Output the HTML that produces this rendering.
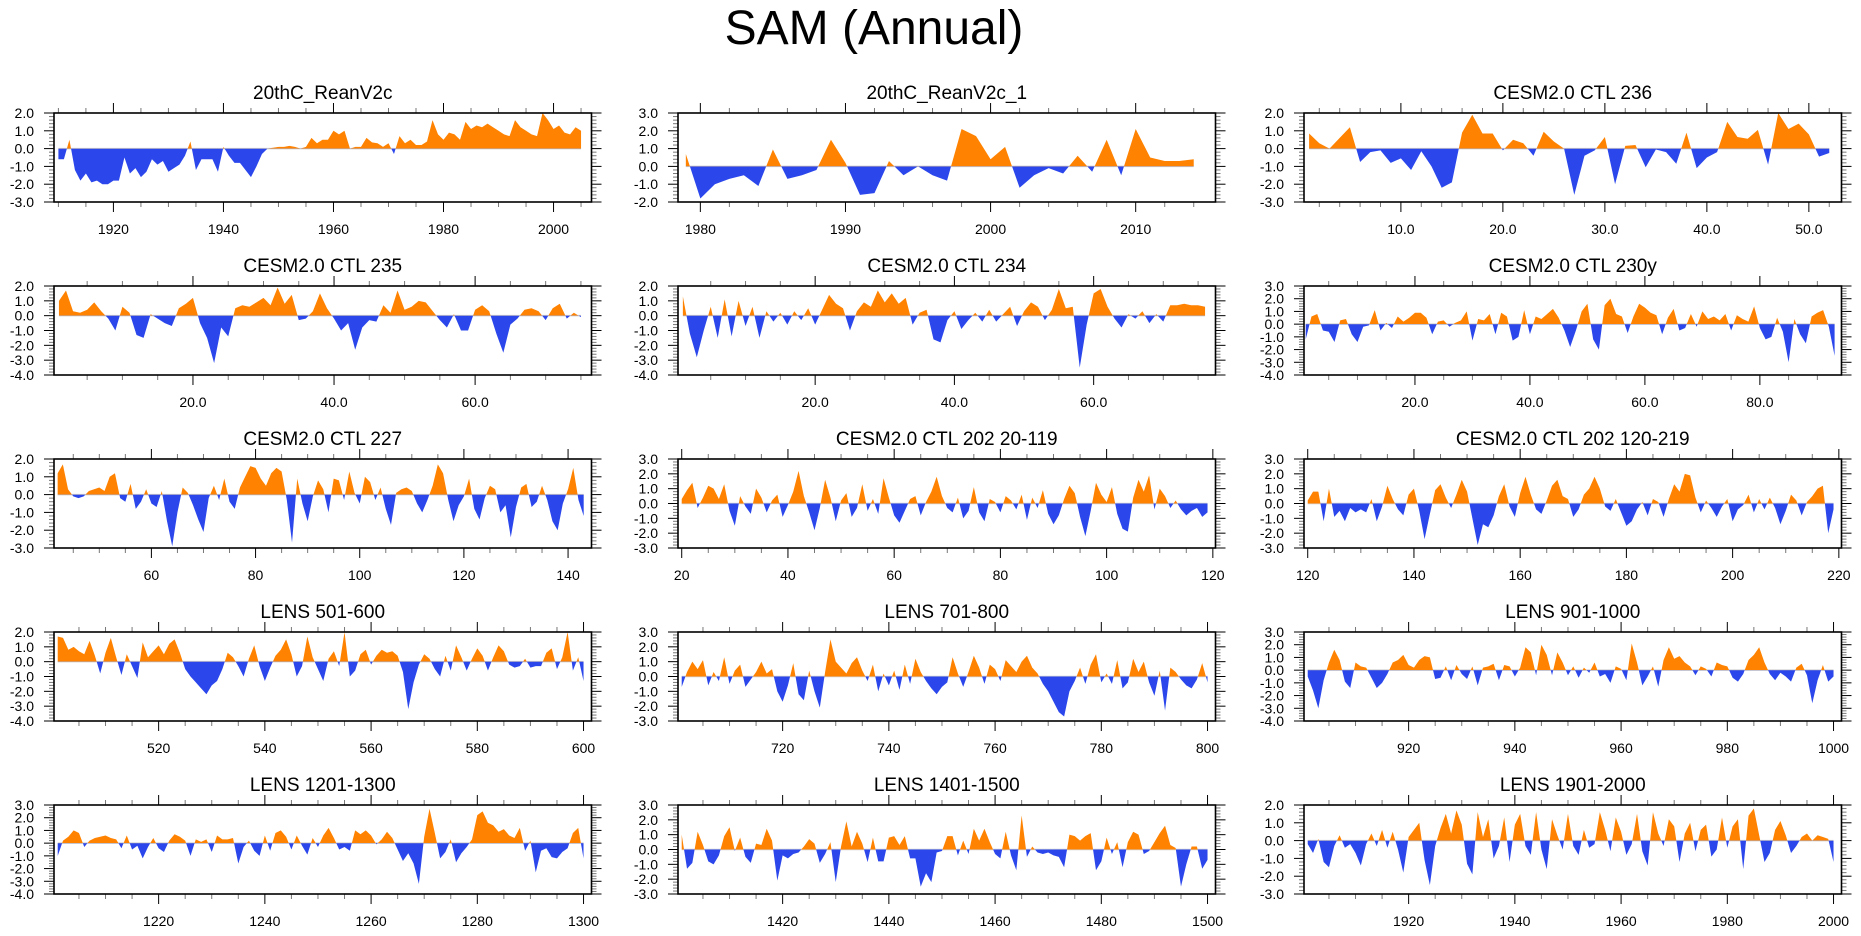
<!DOCTYPE html>
<html><head><meta charset="utf-8"><title>SAM (Annual)</title>
<style>
html,body{margin:0;padding:0;background:#fff;}
svg{display:block;font-family:"Liberation Sans",Arial,sans-serif;}
</style></head>
<body>
<svg id="fig" width="1861" height="936" viewBox="0 0 1861 936" xmlns="http://www.w3.org/2000/svg">
<text x="874" y="44" text-anchor="middle" font-size="48">SAM (Annual)</text>
</svg>
<script>
// ---- data (one value per year) ----
const reanV2cStart = 1910;
const reanV2cValues = [-0.6,-0.6,0.5,-1.2,-1.8,-1.4,-1.9,-1.8,-2.0,-2.0,-1.8,-1.8,-0.5,-1.4,-1.1,-1.6,-1.3,-0.6,-0.9,-0.7,-1.3,-1.1,-0.9,-0.4,0.4,-1.2,-0.6,-0.6,-0.6,-1.3,0.1,-0.4,-0.8,-0.8,-1.2,-1.6,-1.0,-0.3,0.0,0.05,0.1,0.1,0.15,0.1,0.0,0.1,0.6,0.3,0.5,0.5,1.0,0.8,1.0,0.0,0.1,0.1,0.6,0.35,0.3,0.1,0.3,-0.3,0.7,0.3,0.5,0.2,0.2,0.4,1.6,0.8,0.5,0.9,0.8,0.5,1.5,1.1,1.3,1.2,1.4,1.2,1.0,0.8,0.7,1.6,1.2,1.0,0.8,0.7,2.0,1.6,1.1,1.3,0.9,0.8,1.2,1.0];
const reanV2c1Start = 1979;
const reanV2c1Values = [0.7,-1.8,-1.0,-0.7,-0.5,-1.1,0.95,-0.7,-0.5,-0.2,1.5,0.2,-1.6,-1.5,0.3,-0.5,0.0,-0.5,-0.8,2.1,1.7,0.4,1.1,-1.2,-0.5,-0.1,-0.4,0.6,-0.3,1.5,-0.5,2.1,0.5,0.3,0.3,0.4];
const ctl236Start = 1;
const ctl236Values = [0.85,0.3,0.0,0.6,1.2,-0.75,-0.2,-0.1,-0.8,-0.55,-1.2,-0.15,-1.0,-2.2,-1.9,0.9,1.9,0.85,0.85,-0.1,0.5,0.3,-0.4,0.95,0.4,0.0,-2.6,-0.4,-0.1,0.65,-2.0,0.15,0.2,-1.05,-0.05,-0.2,-0.85,0.9,-1.1,-0.5,-0.2,1.5,0.65,0.55,1.05,-0.9,2.0,1.1,1.4,0.8,-0.45,-0.25];
const ctl235Start = 1;
const ctl235Values = [1.0,1.7,0.3,0.2,0.4,0.9,0.3,-0.2,-1.0,0.6,0.2,-1.3,-1.5,0.1,-0.2,-0.5,-0.7,0.5,0.8,1.2,-0.5,-1.5,-3.2,-0.8,-1.4,0.5,0.7,0.6,0.9,1.2,0.7,1.9,0.8,1.4,-0.3,-0.2,0.3,1.5,0.5,-0.2,-1.0,-0.5,-2.3,-0.8,-0.3,-0.4,0.7,0.2,1.7,0.4,0.6,1.0,0.9,0.3,-0.3,-0.8,0.1,-1.0,-1.0,0.4,0.7,0.3,-1.2,-2.5,-0.6,-0.2,0.4,0.5,0.3,-0.3,0.5,0.8,-0.2,0.2,-0.1];
const ctl234Start = 1;
const ctl234Values = [1.3,-1.2,-2.8,-1.0,0.6,-1.5,1.1,-1.4,1.0,-0.7,0.6,-1.5,0.3,-0.4,0.2,-0.6,0.3,-0.3,0.5,-0.6,0.4,1.4,0.8,0.5,-1.0,0.3,0.9,0.6,1.7,0.9,1.5,0.8,1.2,-0.6,0.2,0.4,-1.6,-1.8,-0.3,0.3,-0.9,-0.3,0.2,-0.4,0.4,-0.4,0.1,0.6,-0.7,0.3,0.9,0.6,-0.3,0.4,1.8,0.5,0.6,-3.5,-0.6,1.5,1.8,0.6,-0.2,-0.8,0.1,-0.2,0.3,-0.5,0.1,-0.4,0.7,0.7,0.8,0.7,0.7,0.6];
const ctl230yStart = 1;
const ctl230yValues = [-1.2,0.6,0.8,-0.5,-0.6,-1.4,0.3,0.4,-0.8,-1.4,-0.2,-0.1,1.1,-0.5,0.1,-0.3,0.6,0.2,0.5,0.9,0.9,0.5,-0.8,0.2,0.3,-0.2,0.1,0.3,1.0,-1.3,0.4,0.3,0.8,-0.8,0.9,0.6,-1.3,-1.0,1.1,-0.8,0.6,0.4,0.8,1.2,0.5,-0.5,-1.8,-0.5,1.0,1.6,-1.2,-2.0,1.5,2.0,0.8,0.6,-0.7,0.6,1.6,1.3,0.9,0.7,-0.8,0.5,1.2,-0.5,-0.3,0.8,-0.2,1.0,0.4,0.6,0.3,0.8,-0.5,0.7,0.4,0.2,1.4,-0.3,-1.2,-1.0,0.5,-0.6,-3.0,0.4,-0.8,-1.5,0.6,0.9,1.1,-0.2,-2.5];
const ctl227Start = 42;
const ctl227Values = [1.2,1.7,0.3,-0.1,-0.2,-0.1,0.2,0.3,0.4,0.2,1.0,1.2,-0.2,-0.4,0.6,-0.8,-0.4,0.3,-0.5,-0.7,0.2,-1.5,-2.9,-1.0,0.4,0.1,-0.6,-1.4,-2.1,-0.2,0.5,-0.3,0.9,-0.4,-0.8,0.4,1.0,1.6,1.5,0.9,0.5,1.2,1.5,1.3,-0.3,-2.7,0.9,-0.5,-1.5,-0.1,0.8,0.3,-1.0,0.9,0.8,-0.3,1.3,0.1,-0.5,1.0,0.7,-0.3,0.4,-0.8,-1.7,0.1,0.3,0.4,0.2,-0.5,-1.0,-0.3,0.5,1.7,1.2,-0.3,-1.5,-0.6,-0.1,0.9,-0.8,-1.4,-0.2,0.5,0.3,-1.0,-0.6,-2.4,-0.7,0.4,0.6,-0.7,-0.4,0.5,-0.3,-1.5,-2.0,-0.5,0.3,1.5,-0.3,-1.2];
const ctl202aStart = 20;
const ctl202aValues = [0.3,0.9,1.4,-0.3,0.4,1.2,1.0,0.3,1.3,-0.5,-1.5,0.5,-0.2,-0.7,1.0,0.4,-0.6,0.2,0.6,-0.9,-0.1,0.8,2.2,0.5,-0.6,-1.8,-0.3,1.6,0.4,-1.2,0.2,0.7,-0.9,-0.3,1.3,-0.5,0.3,-0.7,1.7,0.4,-0.8,-1.3,-0.5,0.3,0.5,-0.8,0.1,0.8,1.8,0.5,-0.3,-0.6,0.4,-1.0,-0.5,1.1,-0.6,-1.2,0.3,0.1,-0.6,0.5,0.2,-0.4,0.6,-1.1,0.4,-0.3,0.9,-0.7,-1.4,-0.8,0.3,1.2,0.7,-0.9,-2.2,-0.5,1.4,0.6,0.1,1.1,-0.7,-1.7,-1.9,0.4,1.6,0.8,1.9,-0.4,1.0,0.5,-0.3,0.2,-0.4,-0.8,-0.5,-0.3,-0.9,-0.6];
const ctl202bStart = 120;
const ctl202bValues = [0.2,0.8,0.8,-1.2,1.0,-0.9,-0.5,-1.2,-0.3,-0.6,-0.4,-0.6,0.3,-1.2,-0.2,1.2,0.3,-0.4,-0.8,0.6,1.0,-0.5,-2.4,-0.7,0.9,1.3,0.4,-0.3,0.6,1.6,0.8,-1.0,-2.8,-1.4,-1.6,-0.8,0.5,1.3,-0.2,-0.9,0.7,1.8,0.6,-0.4,-0.7,0.2,1.2,1.6,0.5,0.3,-0.9,-0.4,0.6,1.0,1.8,1.0,-0.2,-0.5,0.3,-0.6,-1.5,-1.2,-0.4,0.1,-0.8,0.3,0.1,-0.9,0.3,1.3,0.8,2.0,1.9,0.4,-0.6,0.2,-0.3,-0.9,-0.2,0.3,-1.2,-0.4,-0.1,0.6,-0.6,0.3,-0.4,0.4,-0.3,-1.4,-0.5,0.6,0.2,-0.8,0.1,0.5,1.0,1.2,-2.0,-0.4];
const lens501Start = 501;
const lens501Values = [1.7,1.6,0.8,1.0,0.7,0.5,1.4,0.4,-0.8,0.6,1.6,0.3,-0.9,0.5,-0.3,-1.1,1.3,0.3,0.7,1.1,0.5,1.2,1.5,0.6,-0.5,-1.0,-1.4,-1.8,-2.2,-1.6,-1.3,-0.5,0.6,0.3,-0.3,-1.0,0.2,1.1,-0.3,-1.3,-0.4,0.4,0.8,1.5,0.5,-1.0,-0.3,1.7,0.3,-0.5,-1.3,0.2,0.7,-0.3,2.0,-1.0,-0.6,0.5,0.8,-0.2,0.4,0.8,0.6,0.7,0.4,-0.7,-3.2,-1.4,-0.2,0.5,0.2,-0.5,-1.0,0.4,-0.6,1.1,0.3,-0.6,0.2,0.9,0.4,-0.6,0.3,1.1,0.7,-0.2,-0.4,-0.3,0.2,-0.4,-0.3,-0.3,0.6,0.9,-0.5,0.3,2.0,-0.6,0.3,-1.3];
const lens701Start = 701;
const lens701Values = [-0.7,0.3,1.0,0.5,1.1,-0.6,0.3,-0.3,1.3,-0.5,0.4,0.8,-0.7,-0.2,0.3,1.0,0.2,0.5,-1.0,-1.7,-0.6,0.9,-1.2,-1.6,0.4,-1.0,-2.1,0.3,2.5,1.0,0.6,0.2,0.9,1.3,0.4,-0.3,0.8,-1.0,0.2,-0.6,0.4,-0.9,0.8,-0.5,1.2,0.3,-0.3,-0.8,-1.2,-0.7,-0.4,1.3,0.2,-0.7,0.3,1.4,0.6,-0.5,0.8,0.5,-0.3,1.1,0.7,0.3,1.0,1.4,0.6,0.2,-0.5,-1.0,-1.7,-2.4,-2.7,-1.0,-0.3,0.6,-0.5,0.8,1.5,-0.4,0.2,-0.5,1.1,-0.8,-0.4,1.2,0.3,1.0,-0.4,-1.3,0.4,-2.3,0.6,0.3,-0.2,-0.6,-0.8,-0.2,0.9,-0.4];
const lens901Start = 901;
const lens901Values = [-0.5,-1.6,-3.0,-0.8,0.6,1.6,0.8,-0.9,-1.4,0.6,0.3,0.2,-0.6,-1.4,-1.0,-0.3,0.6,0.8,1.2,0.4,0.2,0.8,1.1,1.0,-0.7,-0.6,0.3,-0.8,0.4,-0.3,-0.7,0.3,-1.2,0.2,0.3,0.5,-0.8,0.4,0.3,-0.5,0.2,1.8,1.4,-0.4,2.0,1.2,-0.4,1.4,0.6,-0.4,0.3,-0.6,0.2,-0.2,0.6,-0.5,-0.3,-1.0,0.3,0.1,-0.8,2.1,0.6,-1.2,-0.5,0.3,-1.3,0.8,1.8,0.9,1.1,0.6,0.3,-0.4,0.3,0.1,-0.5,0.6,0.4,0.3,-0.6,-0.9,-0.3,0.8,1.2,1.8,0.6,-0.3,-0.8,-0.2,-0.5,-0.9,0.2,0.5,-0.4,-2.6,-0.8,0.4,-0.9,-0.5];
const lens1201Start = 1201;
const lens1201Values = [-1.0,0.2,0.5,1.0,0.8,-0.3,0.2,0.4,0.5,0.6,0.4,0.3,-0.4,0.6,-0.5,-0.2,-1.2,-0.3,0.4,-0.4,-0.7,0.2,0.7,0.5,0.2,-1.0,0.3,0.1,0.3,-0.7,0.6,0.3,0.3,0.4,-1.6,-0.3,0.2,-0.6,-1.0,0.6,-0.6,0.8,1.0,0.5,-0.5,0.6,-0.2,-0.9,0.4,-0.3,0.6,1.2,0.4,-0.5,-0.3,-0.6,1.0,0.7,1.0,0.6,-0.1,0.3,0.9,0.4,-0.5,-1.4,-0.8,-1.6,-3.2,0.5,2.7,0.8,-1.2,-0.7,0.3,-1.5,-0.8,-0.3,0.3,2.2,2.5,1.6,1.4,0.9,1.1,0.6,0.4,1.2,-0.6,0.2,-2.3,-0.6,-0.4,-1.1,-1.2,-0.7,-0.4,0.8,1.2,-1.2];
const lens1401Start = 1401;
const lens1401Values = [1.0,-1.3,-0.9,1.2,0.3,-0.8,-1.0,-0.4,0.9,1.5,-0.1,0.8,-0.5,-0.9,0.4,0.3,1.4,0.6,-2.1,-0.4,-0.6,-0.3,-0.2,0.2,0.7,0.4,-0.9,-0.3,0.5,-2.2,0.2,1.9,0.2,1.2,0.4,-0.85,0.8,-0.8,-0.8,0.8,0.9,0.3,0.9,-0.6,-0.6,-2.5,-1.6,-2.2,-0.2,-0.1,0.9,0.9,-0.4,0.6,-0.3,1.4,0.6,1.4,0.5,-0.3,-0.6,1.2,-0.4,-1.4,2.3,-0.5,0.2,-0.2,-0.3,-0.2,-0.4,-0.5,-1.2,1.0,0.9,0.6,0.9,1.1,-1.4,-0.8,0.8,-0.3,0.5,-1.2,0.5,1.2,1.0,-0.3,-0.1,0.5,1.1,1.6,0.3,0.1,-2.5,-1.0,0.2,0.2,-1.3,-0.7];
const lens1901Start = 1901;
const lens1901Values = [-0.2,-0.7,0.1,-1.2,-1.5,-0.3,0.3,-0.4,-0.2,-0.7,-1.4,-0.2,0.4,-0.3,0.6,-0.4,0.5,-0.5,-1.8,0.2,0.6,1.0,-1.1,-2.5,-0.3,0.7,1.5,0.4,1.7,0.9,-1.3,-1.9,1.6,0.2,1.2,-1.0,-0.3,1.3,-1.2,0.9,1.5,-0.3,-0.8,1.6,-0.5,-1.6,1.2,0.3,-0.5,1.5,-0.3,-0.8,0.6,-0.4,-0.2,1.6,0.6,-0.6,1.3,0.5,-0.8,-0.2,1.5,-0.6,-1.4,1.6,0.4,-0.3,1.2,0.8,-1.2,0.4,1.0,-0.6,0.6,0.9,-0.9,-0.5,1.3,-0.4,0.8,1.2,-1.6,1.4,1.8,0.3,-1.2,-0.7,0.6,1.1,0.3,-0.7,-0.3,0.2,0.4,0.0,0.3,0.2,0.1,-1.2];

// ---- panel titles and axis ranges ----
const panelTitles = ["20thC_ReanV2c","20thC_ReanV2c_1","CESM2.0 CTL 236","CESM2.0 CTL 235","CESM2.0 CTL 234","CESM2.0 CTL 230y","CESM2.0 CTL 227","CESM2.0 CTL 202 20-119","CESM2.0 CTL 202 120-219","LENS 501-600","LENS 701-800","LENS 901-1000","LENS 1201-1300","LENS 1401-1500","LENS 1901-2000"];
const panelStarts = [reanV2cStart,reanV2c1Start,ctl236Start,ctl235Start,ctl234Start,ctl230yStart,ctl227Start,ctl202aStart,ctl202bStart,lens501Start,lens701Start,lens901Start,lens1201Start,lens1401Start,lens1901Start];
const panelValues = [reanV2cValues,reanV2c1Values,ctl236Values,ctl235Values,ctl234Values,ctl230yValues,ctl227Values,ctl202aValues,ctl202bValues,lens501Values,lens701Values,lens901Values,lens1201Values,lens1401Values,lens1901Values];
const yMins = [-3,-2,-3,-4,-4,-4,-3,-3,-3,-4,-3,-4,-4,-3,-3];
const yMaxs = [2,3,2,2,2,3,2,3,3,2,3,3,3,3,2];
const xMins = [1909.2,1978.46,0.5,0.3,0.3,0.7,41.3,19.3,119.3,500.3,700.3,900.3,1200.3,1400.3,1900.3];
const xMaxs = [2006.9,2015.5,53.2,76.5,77.5,94.2,144.5,120.5,220.5,601.5,801.5,1001.5,1301.5,1501.5,2001.5];
const xMajorSteps = [20,10,10,20,20,20,20,20,20,20,20,20,20,20,20];
const xMinorSteps = [5,2,2,5,5,5,5,5,5,5,5,5,5,5,5];
const xLabelDecimals = [0,0,1,1,1,1,0,0,0,0,0,0,0,0,0];

// ---- layout ----
const NS = "http://www.w3.org/2000/svg";
const svg = document.getElementById('fig');
const colLefts = [54, 678, 1304];
const plotW = 537.5, plotH = 89, rowTop0 = 113, rowStep = 173;
const ORANGE = "#ff8200", BLUE = "#2b47ec";

function mk(tag, attrs, parent) {
  const e = document.createElementNS(NS, tag);
  for (const k in attrs) e.setAttribute(k, attrs[k]);
  (parent || svg).appendChild(e);
  return e;
}

for (let p = 0; p < panelTitles.length; p++) {
  const col = p % 3, row = Math.floor(p / 3);
  const L = colLefts[col], T = rowTop0 + row * rowStep, W = plotW, H = plotH;
  const x0 = xMins[p], x1 = xMaxs[p], y0 = yMins[p], y1 = yMaxs[p];
  const xs = v => L + (v - x0) / (x1 - x0) * W;
  const ys = v => T + (y1 - v) / (y1 - y0) * H;
  const vals = panelValues[p], start = panelStarts[p];

  const g = mk('g', {});
  
  

  const t = mk('text', {x: L + W / 2, y: T - 14, 'text-anchor': 'middle', 'font-size': 19}, g);
  t.textContent = panelTitles[p];
  
  

  const defs = mk('defs', {}, g);
  const yZero = ys(0);
  const cpA = mk('clipPath', {id: 'ca' + p}, defs);
  mk('rect', {x: L, y: T, width: W, height: yZero - T}, cpA);
  const cpB = mk('clipPath', {id: 'cb' + p}, defs);
  mk('rect', {x: L, y: yZero, width: W, height: T + H - yZero}, cpB);

  const xFirst = xs(start), xLast = xs(start + vals.length - 1);
  const zl = mk('line', {x1: xFirst, x2: xLast, y1: yZero, y2: yZero, stroke: '#cfcfcf', 'stroke-width': 1.5}, g);
  
  

  let d = 'M' + xFirst.toFixed(2) + ',' + yZero.toFixed(2);
  vals.forEach((v, i) => { d += 'L' + xs(start + i).toFixed(2) + ',' + ys(v).toFixed(2); });
  d += 'L' + xLast.toFixed(2) + ',' + yZero.toFixed(2) + 'Z';
  const pos = mk('path', {d: d, fill: ORANGE, 'clip-path': 'url(#ca' + p + ')'}, g);
  
  
  const neg = mk('path', {d: d, fill: BLUE, 'clip-path': 'url(#cb' + p + ')'}, g);
  
  

  // y ticks and labels
  for (let k = Math.round(y0 * 5); k <= Math.round(y1 * 5); k++) {
    const v = k / 5, yy = ys(v), major = (k % 5 === 0);
    const len = major ? 10 : 5, sc = major ? '#000' : '#777';
    mk('line', {x1: L - len, x2: L, y1: yy, y2: yy, stroke: sc, 'stroke-width': 1}, g);
    mk('line', {x1: L + W, x2: L + W + len, y1: yy, y2: yy, stroke: sc, 'stroke-width': 1}, g);
    if (major) {
      const yl = mk('text', {x: L - 20, y: yy + 5, 'text-anchor': 'end', 'font-size': 14}, g);
      yl.textContent = v.toFixed(1);
      
      
    }
  }
  // x ticks and labels
  const mStep = xMinorSteps[p], MStep = xMajorSteps[p];
  for (let v = Math.ceil(x0 / mStep) * mStep; v <= x1; v += mStep) {
    const xx = xs(v), major = (Math.abs(v / MStep - Math.round(v / MStep)) < 1e-6);
    const len = major ? 10 : 5, sc = major ? '#000' : '#777';
    mk('line', {x1: xx, x2: xx, y1: T + H, y2: T + H + len, stroke: sc, 'stroke-width': 1}, g);
    mk('line', {x1: xx, x2: xx, y1: T - len, y2: T, stroke: sc, 'stroke-width': 1}, g);
    if (major) {
      const xl = mk('text', {x: xx, y: T + H + 32, 'text-anchor': 'middle', 'font-size': 14}, g);
      xl.textContent = v.toFixed(xLabelDecimals[p]);
      
      
    }
  }
  const fr = mk('rect', {x: L, y: T, width: W, height: H, fill: 'none', stroke: '#000', 'stroke-width': 1.6}, g);
  
  
}
</script>
</body></html>
